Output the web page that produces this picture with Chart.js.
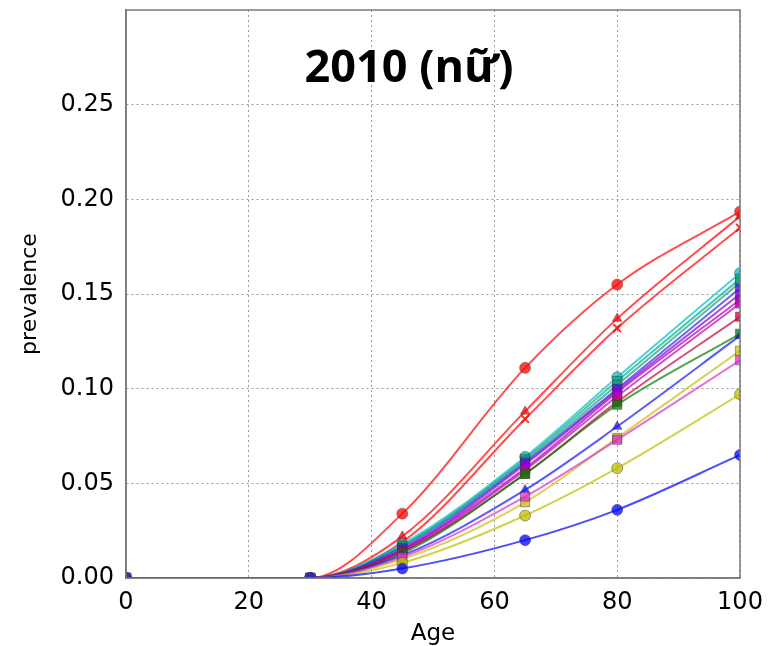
<!DOCTYPE html>
<html>
<head>
<meta charset="utf-8">
<script src="https://cdn.jsdelivr.net/npm/chart.js@4"></script>
<style>
  body { margin: 0; background: #fff; }
  canvas { display: block; }
</style>
</head>
<body>
<canvas id="prevChart" width="769" height="646"></canvas>
<script>
// Tuổi có điểm đánh dấu
const ages = [0, 30, 45, 65, 80, 100];
const yTicks = [0, 0.05, 0.10, 0.15, 0.20, 0.25];

// Giá trị prevalence (2010, nữ)
const redCircle   = [0, 0, 0.034, 0.111, 0.155, 0.1935];
const redTriangle = [0, 0, 0.022, 0.088, 0.137, 0.191];
const redCross    = [0, 0, 0.019, 0.084, 0.132, 0.185];
const cyanCircle  = [0, 0, 0.018, 0.064, 0.106, 0.161];
const tealLine    = [0, 0, 0.017, 0.063, 0.104, 0.158];
const greenLine   = [0, 0, 0.017, 0.062, 0.102, 0.156];
const blueLine    = [0, 0, 0.016, 0.061, 0.100, 0.153];
const purpleLine  = [0, 0, 0.015, 0.060, 0.099, 0.150];
const magentaLine = [0, 0, 0.014, 0.057, 0.096, 0.145];
const redSquare   = [0, 0, 0.014, 0.055, 0.093, 0.138];
const dgreenSq    = [0, 0, 0.013, 0.055, 0.0915, 0.129];
const blueTri     = [0, 0, 0.012, 0.0465, 0.080, 0.128];
const yellowSq    = [0, 0, 0.010, 0.040, 0.074, 0.120];
const pinkSq      = [0, 0, 0.011, 0.043, 0.073, 0.115];
const yellowCirc  = [0, 0, 0.008, 0.033, 0.058, 0.097];
const blueCircle  = [0, 0, 0.005, 0.020, 0.036, 0.065];
const purpleSq    = [0, 0, 0.015, 0.058, 0.098, 0.147];

const series = [
  { v: blueCircle,  c: '0,0,255',     m: 'circle' },
  { v: yellowCirc,  c: '191,191,0',   m: 'circle' },
  { v: pinkSq,      c: '220,50,200',  m: 'rect' },
  { v: yellowSq,    c: '200,190,20',  m: 'rect' },
  { v: blueTri,     c: '20,20,255',   m: 'triangle' },
  { v: dgreenSq,    c: '0,128,0',     m: 'rect' },
  { v: redSquare,   c: '200,0,60',    m: 'rect' },
  { v: magentaLine, c: '191,0,191',   m: 'rect' },
  { v: purpleLine,  c: '140,0,220',   m: 'rect' },
  { v: blueLine,    c: '40,40,230',   m: 'rect' },
  { v: greenLine,   c: '30,160,110',  m: 'rect' },
  { v: tealLine,    c: '0,170,160',   m: 'rect' },
  { v: cyanCircle,  c: '0,191,191',   m: 'circle' },
  { v: redCross,    c: '255,0,0',     m: 'crossRot' },
  { v: redTriangle, c: '255,0,0',     m: 'triangle' },
  { v: redCircle,   c: '255,0,0',     m: 'circle' },
  { v: purpleSq,    c: '170,0,170',   m: 'rect' },
];

const datasets = series.map((s) => ({
  data: ages.map((a, i) => ({ x: a, y: s.v[i] })),
  borderColor: `rgba(${s.c},0.7)`,
  backgroundColor: `rgba(${s.c},0.75)`,
  pointBorderColor: s.m === 'crossRot' ? `rgba(${s.c},0.8)` : 'rgba(60,60,60,0.45)',
  pointBorderWidth: s.m === 'crossRot' ? 2 : 1,
  pointStyle: s.m,
  pointRadius: s.m === 'rect' ? 6.5 : 5.5,
  borderWidth: 2,
  cubicInterpolationMode: 'monotone',
  showLine: true,
}));

// khung + tiêu đề bên trong vùng vẽ
const framePlugin = {
  id: 'frame',
  afterDraw(chart) {
    const { ctx, chartArea: a } = chart;
    ctx.save();
    ctx.strokeStyle = '#7a7a7a';
    ctx.lineWidth = 1.5;
    ctx.strokeRect(a.left, a.top, a.right - a.left, a.bottom - a.top);
    ctx.fillStyle = '#000';
    ctx.font = 'bold 45px "Open Sans"';
    ctx.textAlign = 'center';
    ctx.textBaseline = 'alphabetic';
    ctx.fillText('2010 (nữ)', a.left + 283, a.top + 72);
    ctx.restore();
  },
};

new Chart(document.getElementById('prevChart'), {
  type: 'scatter',
  data: { datasets },
  options: {
    responsive: false,
    animation: false,
    layout: { padding: { top: 10, right: 29, left: 0, bottom: 0 } },
    plugins: { legend: { display: false }, tooltip: { enabled: false } },
    scales: {
      x: {
        type: 'linear',
        min: 0,
        max: 100,
        ticks: { stepSize: 20, color: '#000', padding: 10, font: { family: 'DejaVu Sans', size: 24 } },
        grid: { color: '#9a9a9a', drawTicks: false },
        border: { display: true, color: '#7a7a7a', width: 1.5, dash: [2, 3] },
        title: { display: true, text: 'Age', color: '#000', font: { family: 'DejaVu Sans', size: 23, lineHeight: 1 }, padding: 0 },
        afterFit: (s) => { s.height = 68; s.paddingLeft = 0; s.paddingRight = 0; },
      },
      y: {
        min: 0,
        max: 0.3,
        afterBuildTicks: (s) => { s.ticks = yTicks.map((v) => ({ value: v })); },
        ticks: {
          color: '#000',
          padding: 12,
          font: { family: 'DejaVu Sans', size: 24 },
          callback: (v) => Number(v).toFixed(2),
        },
        grid: { color: '#9a9a9a', drawTicks: false },
        border: { display: true, color: '#7a7a7a', width: 1.5, dash: [2, 3] },
        title: { display: true, text: 'prevalence', color: '#000', font: { family: 'DejaVu Sans', size: 22 }, padding: { top: 17, bottom: 0 } },
        afterFit: (s) => { s.width = 126; s.paddingTop = 0; s.paddingBottom = 0; },
      },
    },
  },
  plugins: [framePlugin],
});
</script>
</body>
</html>
